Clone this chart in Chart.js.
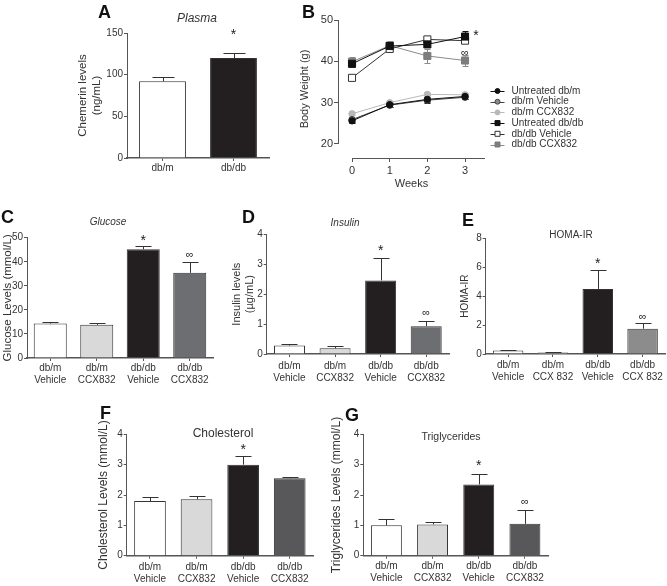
<!DOCTYPE html>
<html lang="en">
<head>
<meta charset="UTF-8">
<title>Chemerin and metabolic parameters in db/m and db/db mice</title>
<script src="https://cdn.jsdelivr.net/npm/chart.js"></script>
<style>
  body { margin: 0; background: #fff; font-family: 'Liberation Sans', Arial, sans-serif; color: #333; }
  #fig { position: relative; width: 667px; height: 586px; overflow: hidden; }
  canvas { position: absolute; }
  .lbl { position: absolute; font-weight: bold; font-size: 18px; color: #111; line-height: 1; }
  .ttl { position: absolute; transform: translate(-50%, -50%); white-space: nowrap; color: #333; line-height: 1; }
</style>
</head>
<body>
<div id="fig">
  <canvas id="cA" width="220" height="190" style="left:60px;top:0px"></canvas>
  <canvas id="cB" width="377" height="195" style="left:290px;top:0px"></canvas>
  <canvas id="cC" width="225" height="190" style="left:0px;top:200px"></canvas>
  <canvas id="cD" width="230" height="190" style="left:225px;top:200px"></canvas>
  <canvas id="cE" width="217" height="190" style="left:450px;top:200px"></canvas>
  <canvas id="cF" width="240" height="196" style="left:90px;top:390px"></canvas>
  <canvas id="cG" width="240" height="196" style="left:325px;top:390px"></canvas>

  <div class="lbl" style="left:98px;top:3px">A</div>
  <div class="lbl" style="left:302px;top:3px">B</div>
  <div class="lbl" style="left:1px;top:208px">C</div>
  <div class="lbl" style="left:242px;top:208px">D</div>
  <div class="lbl" style="left:462px;top:211px">E</div>
  <div class="lbl" style="left:100px;top:404px">F</div>
  <div class="lbl" style="left:345px;top:406px">G</div>

  <div class="ttl" style="left:197px;top:18px;font-size:12px;font-style:italic">Plasma</div>
  <div class="ttl" style="left:108px;top:222px;font-size:10px;font-style:italic">Glucose</div>
  <div class="ttl" style="left:345px;top:223px;font-size:10px;font-style:italic">Insulin</div>
  <div class="ttl" style="left:571px;top:235px;font-size:10px">HOMA-IR</div>
  <div class="ttl" style="left:223px;top:433px;font-size:12px">Cholesterol</div>
  <div class="ttl" style="left:451px;top:436px;font-size:10.5px">Triglycerides</div>
</div>

<script>
    // A: plasma chemerin
    const plasmaGroups = ['db/m', 'db/db'];
    const chemerin = [92, 120];
    const chemerinSem = [5, 6];
    const chemerinMarks = ['', '*'];

    // B: body weight over time
    const weeks = [0, 1, 2, 3];
    const weightTicks = [20, 30, 40, 50];
    const bwNames = ['Untreated db/m', 'db/m Vehicle', 'db/m CCX832', 'Untreated db/db', 'db/db Vehicle', 'db/db CCX832'];
    const bwUntreatedDbm = [25.6, 29.5, 30.8, 31.5];
    const bwDbmVehicle = [25.9, 29.4, 30.6, 31.3];
    const bwDbmCcx = [27.3, 30.0, 32.0, 31.9];
    const bwUntreatedDbdb = [39.4, 43.7, 44.1, 46.0];
    const bwDbdbVehicle = [36.0, 43.0, 45.3, 45.0];
    const bwDbdbCcx = [39.9, 43.8, 41.3, 40.2];
    const bwUntreatedDbmSem = [0.5, 0.5, 1.0, 0.5];
    const bwDbmVehicleSem = [0.5, 0.5, 0.5, 0.5];
    const bwDbmCcxSem = [0.4, 0.4, 0.4, 0.4];
    const bwUntreatedDbdbSem = [0.6, 0.8, 0.6, 1.3];
    const bwDbdbVehicleSem = [0.6, 0.6, 0.6, 0.6];
    const bwDbdbCcxSem = [1.2, 1.0, 1.8, 1.4];

    // C-G: treatment groups
    const groups = [['db/m', 'Vehicle'], ['db/m', 'CCX832'], ['db/db', 'Vehicle'], ['db/db', 'CCX832']];
    const groupsHoma = [['db/m', 'Vehicle'], ['db/m', 'CCX 832'], ['db/db', 'Vehicle'], ['db/db', 'CCX 832']];

    const glucose = [14.3, 13.8, 45.2, 35.4];
    const glucoseSem = [0.7, 0.8, 1.2, 4.6];
    const glucoseMarks = ['', '', '*', '∞'];

    const insulin = [0.28, 0.19, 2.46, 0.93];
    const insulinSem = [0.07, 0.08, 0.76, 0.16];
    const insulinMarks = ['', '', '*', '∞'];

    const homa = [0.25, 0.1, 4.5, 1.75];
    const homaSem = [0.04, 0.03, 1.3, 0.4];
    const homaMarks = ['', '', '*', '∞'];

    const cholesterol = [1.8, 1.86, 3.0, 2.55];
    const cholesterolSem = [0.12, 0.12, 0.28, 0.05];
    const cholesterolMarks = ['', '', '*', ''];

    const triglycerides = [1.0, 1.03, 2.35, 1.05];
    const triglyceridesSem = [0.2, 0.07, 0.33, 0.45];
    const triglyceridesMarks = ['', '', '*', '∞'];

    const fam = "'Liberation Sans', Arial, Helvetica, sans-serif";
    Chart.defaults.font.family = fam;
    Chart.defaults.color = '#333';
    Chart.defaults.animation = false;

    const axisCol = '#555';

    // error bars (+ significance marks) drawn through the y scale
    function drawErr(chart, opts) {
        const ctx = chart.ctx, y = chart.scales.y;
        chart.data.datasets.forEach((ds, d) => {
            const sem = opts.sem[d];
            if (!sem) return;
            chart.getDatasetMeta(d).data.forEach((el, i) => {
                const raw = ds.data[i];
                const v = typeof raw === 'object' ? raw.y : raw;
                const top = Math.round(y.getPixelForValue(v + sem[i])) + 0.5;
                const bot = opts.both ? Math.round(y.getPixelForValue(v - sem[i])) + 0.5 : el.y;
                const x = Math.round(el.x) + 0.5;
                ctx.strokeStyle = opts.color || ds.borderColor;
                ctx.lineWidth = 1;
                ctx.beginPath();
                ctx.moveTo(x, top); ctx.lineTo(x, bot);
                ctx.moveTo(x - opts.cap, top); ctx.lineTo(x + opts.cap, top);
                if (opts.both) { ctx.moveTo(x - opts.cap, bot); ctx.lineTo(x + opts.cap, bot); }
                ctx.stroke();
            });
        });
    }

    const errorBars = {
        id: 'errorBars',
        beforeDatasetsDraw(chart, args, opts) {
            if (opts.sem && opts.under) { chart.ctx.save(); drawErr(chart, opts); chart.ctx.restore(); }
        },
        afterDatasetsDraw(chart, args, opts) {
            if (!opts.sem) return;
            const ctx = chart.ctx, y = chart.scales.y;
            ctx.save();
            if (!opts.under) drawErr(chart, opts);
            (opts.marks || []).forEach(m => {
                const d = m.ds || 0;
                const raw = chart.data.datasets[d].data[m.i];
                const v = typeof raw === 'object' ? raw.y : raw;
                const el = chart.getDatasetMeta(d).data[m.i];
                ctx.font = (m.size || 13) + 'px ' + fam;
                ctx.fillStyle = '#222';
                ctx.textAlign = 'center';
                ctx.textBaseline = 'middle';
                ctx.fillText(m.text, el.x + (m.dx || 0), y.getPixelForValue(v + opts.sem[d][m.i]) + m.dy);
            });
            ctx.restore();
        }
    };

    function barPanel(id, c) {
        const marks = [];
        c.marks.forEach((t, i) => {
            if (t === '*') marks.push({ i: i, text: t, dy: c.starDy, size: 14 });
            else if (t) marks.push({ i: i, text: t, dy: c.infDy, size: 11 });
        });
        return new Chart(document.getElementById(id), {
            type: 'bar',
            data: {
                labels: c.labels,
                datasets: [{
                    data: c.values,
                    backgroundColor: c.colors,
                    borderColor: '#333',
                    borderWidth: 1,
                    barPercentage: c.barPct,
                    categoryPercentage: 1
                }]
            },
            options: {
                responsive: false,
                layout: { padding: c.pad, autoPadding: false },
                plugins: {
                    legend: { display: false },
                    tooltip: { enabled: false },
                    errorBars: { sem: [c.sem], marks: marks, cap: c.cap, color: '#333' }
                },
                scales: {
                    x: {
                        grid: { drawOnChartArea: false, offset: false, tickLength: 3, color: axisCol },
                        border: { color: axisCol, width: 1.5 },
                        ticks: { font: { size: 10 }, padding: c.xPad, maxRotation: 0, autoSkip: false },
                        afterFit: s => { s.height = c.xHeight; }
                    },
                    y: {
                        min: 0, max: c.yMax,
                        ticks: { stepSize: c.yStep, font: { size: 10 }, padding: 1 },
                        grid: { drawOnChartArea: false, tickLength: 3, color: axisCol },
                        border: { color: axisCol },
                        title: { display: true, text: c.yTitle, font: { size: c.titleSize }, padding: { top: c.titlePad, bottom: 0 } },
                        afterFit: s => { s.width = c.yWidth; }
                    }
                }
            },
            plugins: [errorBars]
        });
    }

    const bwColors = [
        { line: '#111', fill: '#111', stroke: '#111', style: 'circle' },
        { line: '#444', fill: '#8a8a8a', stroke: '#444', style: 'circle' },
        { line: '#b8b8b8', fill: '#b8b8b8', stroke: '#b8b8b8', style: 'circle' },
        { line: '#111', fill: '#111', stroke: '#111', style: 'rect' },
        { line: '#333', fill: '#fff', stroke: '#333', style: 'rect' },
        { line: '#8a8a8a', fill: '#7d7d7d', stroke: '#7d7d7d', style: 'rect' }
    ];
    const bwValues = [bwUntreatedDbm, bwDbmVehicle, bwDbmCcx, bwUntreatedDbdb, bwDbdbVehicle, bwDbdbCcx];
    const bwSems = [bwUntreatedDbmSem, bwDbmVehicleSem, bwDbmCcxSem, bwUntreatedDbdbSem, bwDbdbVehicleSem, bwDbdbCcxSem];

    // B axes: y line and x line are offset from each other
    const offsetAxes = {
        id: 'offsetAxes',
        afterDraw(chart) {
            const { ctx, chartArea: a, scales: { x, y } } = chart;
            ctx.save();
            ctx.strokeStyle = axisCol;
            ctx.lineWidth = 1;
            ctx.beginPath();
            ctx.moveTo(a.left + 0.5, y.getPixelForValue(weightTicks[weightTicks.length - 1]));
            ctx.lineTo(a.left + 0.5, y.getPixelForValue(weightTicks[0]));
            ctx.moveTo(x.getPixelForValue(weeks[0]), a.bottom + 0.5);
            ctx.lineTo(a.right, a.bottom + 0.5);
            ctx.stroke();
            ctx.restore();
        }
    };

    const sideLegend = {
        id: 'sideLegend',
        afterDraw(chart, args, opts) {
            const ctx = chart.ctx;
            ctx.save();
            ctx.font = '10px ' + fam;
            ctx.textBaseline = 'middle';
            ctx.textAlign = 'left';
            chart.data.datasets.forEach((ds, i) => {
                const y = opts.top + i * opts.step;
                const x = opts.left;
                ctx.strokeStyle = ds.borderColor;
                ctx.lineWidth = 1;
                ctx.beginPath();
                ctx.moveTo(x, Math.round(y) + 0.5);
                ctx.lineTo(x + 14, Math.round(y) + 0.5);
                ctx.stroke();
                ctx.fillStyle = ds.pointBackgroundColor;
                ctx.strokeStyle = ds.pointBorderColor;
                ctx.beginPath();
                if (ds.pointStyle === 'rect') ctx.rect(x + 4.5, y - 2.5, 5, 5);
                else ctx.arc(x + 7, y, 2.5, 0, Math.PI * 2);
                ctx.fill();
                ctx.stroke();
                ctx.fillStyle = '#333';
                ctx.fillText(ds.label, x + 21, y);
            });
            ctx.restore();
        }
    };

    // A
    barPanel('cA', {
        labels: plasmaGroups, values: chemerin, sem: chemerinSem, marks: chemerinMarks,
        colors: ['#ffffff', '#231f20'], yMax: 150, yStep: 50,
        yTitle: ['Chemerin levels', '(ng/mL)'], titleSize: 11.5, titlePad: 16,
        yWidth: 67, xHeight: 32, xPad: 1, pad: { left: 0, top: 33, right: 11, bottom: 0 },
        barPct: 0.66, cap: 11, starDy: -18, infDy: -8
    });

    // B
    new Chart(document.getElementById('cB'), {
        type: 'line',
        data: {
            datasets: bwNames.map((name, k) => ({
                label: name,
                data: weeks.map((w, i) => ({ x: w, y: bwValues[k][i] })),
                borderColor: bwColors[k].line,
                backgroundColor: bwColors[k].fill,
                pointBackgroundColor: bwColors[k].fill,
                pointBorderColor: bwColors[k].stroke,
                pointStyle: bwColors[k].style,
                pointRadius: bwColors[k].style === 'rect' ? 5 : 3.2,
                pointBorderWidth: 1,
                borderWidth: 1,
                tension: 0
            }))
        },
        options: {
            responsive: false,
            layout: { padding: { left: 0, top: 20, right: 182, bottom: 0 }, autoPadding: false },
            plugins: {
                legend: { display: false },
                tooltip: { enabled: false },
                errorBars: {
                    sem: bwSems, both: true, under: true, cap: 3,
                    marks: [
                        { ds: 3, i: 3, text: '*', dx: 11, dy: 5, size: 14 },
                        { ds: 5, i: 3, text: '∞', dx: 0, dy: -1.5, size: 11 }
                    ]
                },
                sideLegend: { left: 200.5, top: 91, step: 10.7 }
            },
            scales: {
                x: {
                    type: 'linear', min: -0.372, max: 3.53,
                    afterBuildTicks: s => { s.ticks = weeks.map(v => ({ value: v })); },
                    grid: { drawOnChartArea: false, tickLength: 4, color: axisCol },
                    border: { display: false },
                    ticks: { font: { size: 11 }, padding: 2 },
                    title: { display: true, text: 'Weeks', font: { size: 11 }, padding: { top: 0, bottom: 4.4 } },
                    afterFit: s => { s.height = 37; }
                },
                y: {
                    min: 16.61, max: 50,
                    afterBuildTicks: s => { s.ticks = weightTicks.map(v => ({ value: v })); },
                    grid: { drawOnChartArea: false, tickLength: 4, color: axisCol },
                    border: { display: false },
                    ticks: { font: { size: 11 }, padding: 1 },
                    title: { display: true, text: 'Body Weight (g)', font: { size: 11 }, padding: { top: 8.4, bottom: 0 } },
                    afterFit: s => { s.width = 48; }
                }
            }
        },
        plugins: [errorBars, offsetAxes, sideLegend]
    });

    // C
    barPanel('cC', {
        labels: groups, values: glucose, sem: glucoseSem, marks: glucoseMarks,
        colors: ['#ffffff', '#d9d9da', '#231f20', '#6d6e71'], yMax: 50, yStep: 10,
        yTitle: 'Glucose Levels (mmol/L)', titleSize: 11.5, titlePad: 1.1,
        yWidth: 27, xHeight: 32, xPad: 1, pad: { left: 0, top: 37.7, right: 12, bottom: 0 },
        barPct: 0.71, cap: 8, starDy: -5, infDy: -7
    });

    // D
    barPanel('cD', {
        labels: groups, values: insulin, sem: insulinSem, marks: insulinMarks,
        colors: ['#ffffff', '#d9d9da', '#231f20', '#6d6e71'], yMax: 4, yStep: 1,
        yTitle: ['Insulin levels', '(µg/mL)'], titleSize: 11, titlePad: 5.4,
        yWidth: 41.7, xHeight: 36, xPad: 3, pad: { left: 0, top: 34.3, right: 6, bottom: 0 },
        barPct: 0.68, cap: 8, starDy: -7, infDy: -8
    });

    // E
    barPanel('cE', {
        labels: groupsHoma, values: homa, sem: homaSem, marks: homaMarks,
        colors: ['#ffffff', '#d9d9da', '#231f20', '#8c8c8c'], yMax: 8, yStep: 2,
        yTitle: 'HOMA-IR', titleSize: 10, titlePad: 9,
        yWidth: 35.7, xHeight: 36, xPad: 2.5, pad: { left: 0, top: 38.3, right: 2, bottom: 0 },
        barPct: 0.68, cap: 8, starDy: -6, infDy: -6
    });

    // F
    barPanel('cF', {
        labels: groups, values: cholesterol, sem: cholesterolSem, marks: cholesterolMarks,
        colors: ['#ffffff', '#d9d9da', '#231f20', '#58585a'], yMax: 4, yStep: 1,
        yTitle: 'Cholesterol Levels (mmol/L)', titleSize: 12, titlePad: 6.8,
        yWidth: 36.7, xHeight: 30.3, xPad: 3, pad: { left: 0, top: 44.3, right: 17, bottom: 0 },
        barPct: 0.68, cap: 8, starDy: -6, infDy: -8
    });

    // G
    barPanel('cG', {
        labels: groups, values: triglycerides, sem: triglyceridesSem, marks: triglyceridesMarks,
        colors: ['#ffffff', '#d9d9da', '#231f20', '#58585a'], yMax: 4, yStep: 1,
        yTitle: 'Triglycerides Levels (mmol/L)', titleSize: 12, titlePad: 4.8,
        yWidth: 38.3, xHeight: 30.3, xPad: 2, pad: { left: 0, top: 44.3, right: 17, bottom: 0 },
        barPct: 0.67, cap: 8, starDy: -8, infDy: -8
    });
</script>
</body>
</html>
